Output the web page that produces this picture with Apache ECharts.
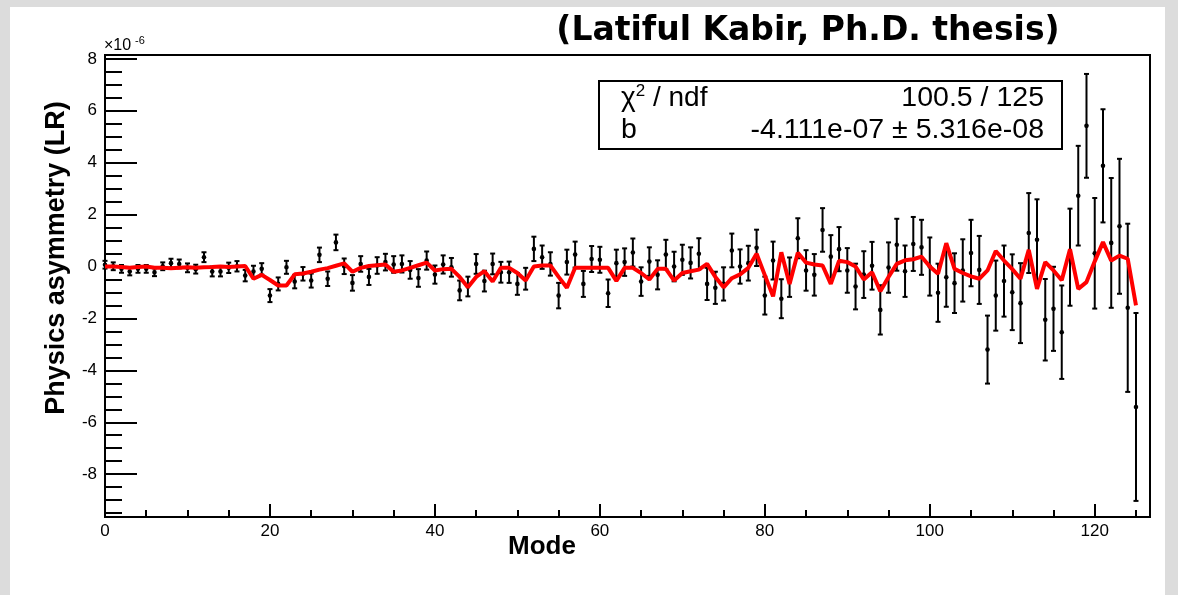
<!DOCTYPE html>
<html>
<head>
<meta charset="utf-8">
<title>Physics asymmetry (LR) vs Mode</title>
<script src="https://cdn.jsdelivr.net/npm/echarts@6.0.0/dist/echarts.min.js"></script>
<style>
html,body{margin:0;padding:0;background:#fff;}
#chart{width:1178px;height:595px;}
</style>
</head>
<body>
<div id="chart"></div>
<script>
// asymmetry per mode, in units of 1e-6 (mode = index 0..125)
var asym = [
	0.07, 0.01, -0.09, -0.19, -0.09, -0.09, -0.22, 0.01, 0.13, 0.10,
	-0.05, -0.10, 0.36, -0.19, -0.19, -0.05, 0.01, -0.35, -0.19, -0.09,
	-1.12, -0.67, -0.03, -0.58, -0.28, -0.54, 0.45, -0.47, 0.93, 0.01,
	-0.63, 0.10, -0.40, 0.04, 0.17, 0.08, 0.10, -0.13, -0.44, 0.23,
	-0.31, 0.08, -0.03, -0.92, -0.77, 0.10, -0.56, 0.10, -0.22, -0.22,
	-0.67, -0.47, 0.68, 0.36, 0.10, -1.12, 0.17, 0.46, -0.67, 0.29,
	0.26, -1.03, 0.13, 0.17, 0.54, -0.58, 0.19, -0.32, 0.46, 0.00,
	0.26, 0.14, 0.49, -0.67, -0.82, -0.67, 0.62, 0.00, 0.13, 0.72,
	-1.12, 0.23, -1.24, -0.41, 1.09, -0.15, -0.32, 1.41, 0.38, 0.67,
	-0.15, -0.77, -0.31, 0.03, -1.67, -0.04, 0.84, -0.18, 0.87, 0.74,
	0.00, -1.01, -0.41, -0.64, -0.15, 0.52, -0.13, -3.20, -1.12, -0.56,
	-0.99, -1.41, 1.29, 1.03, -2.05, -1.63, -2.53, 0.36, 2.73, 5.42,
	0.51, 3.88, 0.91, 1.55, -1.59, -5.41
];
var asymErr = [
	0.15, 0.15, 0.15, 0.15, 0.15, 0.15, 0.15, 0.15, 0.17, 0.17,
	0.17, 0.17, 0.19, 0.19, 0.19, 0.20, 0.20, 0.22, 0.22, 0.22,
	0.25, 0.25, 0.25, 0.26, 0.26, 0.27, 0.28, 0.28, 0.30, 0.30,
	0.30, 0.30, 0.31, 0.32, 0.32, 0.32, 0.33, 0.34, 0.34, 0.35,
	0.35, 0.35, 0.36, 0.38, 0.38, 0.38, 0.40, 0.40, 0.40, 0.41,
	0.42, 0.42, 0.47, 0.45, 0.45, 0.49, 0.48, 0.50, 0.50, 0.50,
	0.50, 0.53, 0.52, 0.53, 0.54, 0.55, 0.55, 0.56, 0.57, 0.57,
	0.58, 0.60, 0.60, 0.62, 0.62, 0.64, 0.65, 0.66, 0.67, 0.70,
	0.73, 0.73, 0.75, 0.76, 0.77, 0.78, 0.80, 0.84, 0.83, 0.85,
	0.86, 0.88, 0.90, 0.92, 0.95, 0.97, 1.00, 0.99, 1.04, 1.06,
	1.12, 1.12, 1.14, 1.15, 1.20, 1.28, 1.31, 1.31, 1.35, 1.37,
	1.46, 1.54, 1.54, 1.56, 1.57, 1.62, 1.80, 1.87, 1.92, 2.00,
	2.13, 2.18, 2.50, 2.60, 3.24, 3.62
];
// red curve per mode
var redLine = [
	0.00, 0.00, -0.02, -0.05, -0.02, 0.00, -0.05, -0.05, -0.07, -0.05,
	-0.03, -0.05, -0.03, -0.02, 0.00, -0.02, 0.00, 0.02, -0.47, -0.32,
	-0.52, -0.73, -0.73, -0.30, -0.27, -0.20, -0.12, -0.06, 0.03, 0.12,
	-0.20, -0.05, 0.02, 0.05, 0.08, -0.20, -0.15, -0.05, 0.05, 0.15,
	-0.15, -0.10, -0.09, -0.40, -0.80, -0.40, -0.18, -0.58, -0.05, -0.05,
	-0.25, -0.54, 0.00, 0.04, 0.04, -0.40, -0.82, -0.05, -0.05, -0.05,
	-0.05, -0.05, -0.55, -0.05, -0.05, -0.25, -0.50, -0.09, -0.09, -0.54,
	-0.25, -0.18, -0.12, 0.10, -0.40, -0.80, -0.45, -0.30, -0.05, 0.49,
	-0.33, -1.15, 0.55, -0.67, 0.53, 0.15, 0.08, 0.04, -0.67, 0.22,
	0.17, 0.00, -0.50, -0.22, -0.95, -0.40, 0.10, 0.24, 0.28, 0.38,
	0.00, -0.28, 0.90, -0.09, -0.25, -0.38, -0.47, -0.15, 0.60, 0.23,
	-0.10, -0.47, 0.64, -0.86, 0.17, -0.15, -0.53, 0.67, -0.86, -0.60,
	0.20, 0.94, 0.23, 0.42, 0.30, -1.50
];
var xMajorTicks = [0, 20, 40, 60, 80, 100, 120];
var xMinorTicks = [5, 10, 15, 25, 30, 35, 45, 50, 55, 65, 70, 75, 85, 90, 95, 105, 110, 115, 125];
var yMajorTicks = [-8, -6, -4, -2, 0, 2, 4, 6, 8];
var yMinorTicks = [-9.5, -9, -8.5, -7.5, -7, -6.5, -5.5, -5, -4.5, -3.5, -3, -2.5, -1.5, -1, -0.5,
	0.5, 1, 1.5, 2.5, 3, 3.5, 4.5, 5, 5.5, 6.5, 7, 7.5];

var font = '"Liberation Sans", Arial, sans-serif';

var pointData = [];
var redData = [];
for (var i = 0; i < asym.length; i++) {
	pointData.push([i, asym[i], asymErr[i]]);
	redData.push([i, redLine[i]]);
}

function renderErrorBar(params, api) {
	var x = api.value(0);
	var y = api.value(1);
	var e = api.value(2);
	var top = api.coord([x, y + e]);
	var bot = api.coord([x, y - e]);
	var mid = api.coord([x, y]);
	var cap = 2.5;
	var st = {stroke: '#000', lineWidth: 2};
	return {
		type: 'group',
		children: [
			{type: 'line', shape: {x1: top[0], y1: top[1], x2: bot[0], y2: bot[1]}, style: st},
			{type: 'line', shape: {x1: top[0] - cap, y1: top[1], x2: top[0] + cap, y2: top[1]}, style: st},
			{type: 'line', shape: {x1: bot[0] - cap, y1: bot[1], x2: bot[0] + cap, y2: bot[1]}, style: st},
			{type: 'circle', shape: {cx: mid[0], cy: mid[1], r: 2.3}, style: {fill: '#000'}}
		]
	};
}

var myChart = echarts.init(document.getElementById('chart'));
var option = {
	backgroundColor: '#fff',
	animation: false,
	grid: {
		left: 105, top: 55, right: 28, bottom: 78,
		show: true, borderColor: '#000', borderWidth: 2, backgroundColor: '#fff'
	},
	xAxis: [
		{
			type: 'value', min: 0, max: 126.7, position: 'bottom',
			axisLine: {show: true, onZero: false, lineStyle: {color: '#000', width: 2}},
			axisTick: {show: true, inside: true, length: 13, lineStyle: {color: '#000', width: 2}, customValues: xMajorTicks},
			axisLabel: {color: '#000', fontSize: 17, fontFamily: font, margin: 6, customValues: xMajorTicks},
			splitLine: {show: false}
		},
		{
			type: 'value', min: 0, max: 126.7, position: 'bottom', offset: 0,
			axisLine: {show: false, onZero: false},
			axisTick: {show: true, inside: true, length: 7, lineStyle: {color: '#000', width: 2}, customValues: xMinorTicks},
			axisLabel: {show: false},
			splitLine: {show: false}
		}
	],
	yAxis: [
		{
			type: 'value', min: -9.65, max: 8.15, position: 'left',
			axisLine: {show: true, onZero: false, lineStyle: {color: '#000', width: 2}},
			axisTick: {show: true, inside: true, length: 32, lineStyle: {color: '#000', width: 2}, customValues: yMajorTicks},
			axisLabel: {color: '#000', fontSize: 17, fontFamily: font, margin: 8, customValues: yMajorTicks},
			splitLine: {show: false}
		},
		{
			type: 'value', min: -9.65, max: 8.15, position: 'left', offset: 0,
			axisLine: {show: false, onZero: false},
			axisTick: {show: true, inside: true, length: 17, lineStyle: {color: '#000', width: 2}, customValues: yMinorTicks},
			axisLabel: {show: false},
			splitLine: {show: false}
		}
	],
	series: [
		{
			name: 'data',
			type: 'custom',
			xAxisIndex: 0,
			yAxisIndex: 0,
			renderItem: renderErrorBar,
			encode: {x: 0, y: 1},
			data: pointData,
			z: 3
		},
		{
			name: 'curve',
			type: 'line',
			xAxisIndex: 0,
			yAxisIndex: 0,
			data: redData,
			showSymbol: false,
			lineStyle: {color: '#ff0000', width: 4},
			z: 4
		}
	],
	graphic: [
		// grey page border
		{type: 'rect', shape: {x: 0, y: 0, width: 10, height: 595}, style: {fill: '#dcdcdc'}, silent: true},
		{type: 'rect', shape: {x: 0, y: 0, width: 1178, height: 7}, style: {fill: '#dcdcdc'}, silent: true},
		{type: 'rect', shape: {x: 1165, y: 0, width: 13, height: 595}, style: {fill: '#dcdcdc'}, silent: true},
		{
			type: 'text', x: 808, y: 31,
			style: {text: '(Latiful Kabir, Ph.D. thesis)', font: 'bold 33px "DejaVu Sans", sans-serif', fill: '#000', textAlign: 'center', textVerticalAlign: 'middle'}
		},
		{
			type: 'text', x: 104, y: 54,
			style: {text: '\u00d710', font: '16px ' + font, fill: '#000', textAlign: 'left', textVerticalAlign: 'bottom'}
		},
		{
			type: 'text', x: 135, y: 46,
			style: {text: '-6', font: '11px ' + font, fill: '#000', textAlign: 'left', textVerticalAlign: 'bottom'}
		},
		{
			type: 'text', x: 542, y: 547,
			style: {text: 'Mode', font: 'bold 26px ' + font, fill: '#000', textAlign: 'center', textVerticalAlign: 'middle'}
		},
		{
			type: 'text', x: 57, y: 258, rotation: Math.PI / 2,
			style: {text: 'Physics asymmetry (LR)', font: 'bold 27px ' + font, fill: '#000', textAlign: 'center', textVerticalAlign: 'middle'}
		},
		// fit statistics box
		{
			type: 'rect', shape: {x: 599, y: 81, width: 463, height: 68},
			style: {fill: '#fff', stroke: '#000', lineWidth: 2}, z: 10
		},
		{
			type: 'text', x: 621, y: 98, z: 11,
			style: {
				text: '{a|\u03c7}{s|2}{a| / ndf}',
				textVerticalAlign: 'middle',
				rich: {
					a: {fontSize: 28, fontFamily: font, fill: '#000', lineHeight: 30},
					s: {fontSize: 17, fontFamily: font, fill: '#000', lineHeight: 30, verticalAlign: 'top'}
				}
			}
		},
		{
			type: 'text', x: 1044, y: 98, z: 11,
			style: {text: '100.5 / 125', font: '28.5px ' + font, fill: '#000', textAlign: 'right', textVerticalAlign: 'middle'}
		},
		{
			type: 'text', x: 621, y: 130, z: 11,
			style: {text: 'b', font: '28.5px ' + font, fill: '#000', textAlign: 'left', textVerticalAlign: 'middle'}
		},
		{
			type: 'text', x: 1044, y: 130, z: 11,
			style: {text: '-4.111e-07 \u00b1 5.316e-08', font: '28.5px ' + font, fill: '#000', textAlign: 'right', textVerticalAlign: 'middle'}
		}
	]
};
myChart.setOption(option);
</script>
</body>
</html>
